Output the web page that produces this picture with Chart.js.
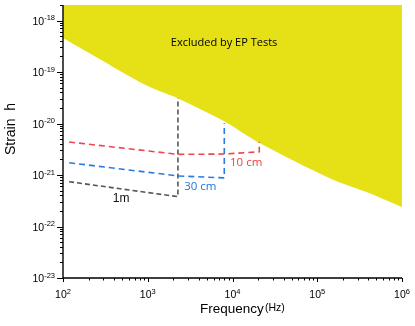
<!DOCTYPE html>
<html>
<head>
<meta charset="utf-8">
<script src="https://cdn.jsdelivr.net/npm/chart.js@4.4.0/dist/chart.umd.min.js"></script>
<style>
  html, body { margin: 0; padding: 0; background: #fff; }
</style>
</head>
<body>
<canvas id="chart" width="415" height="326"></canvas>
<script>
// excluded region (EP tests), lower boundary
var epFreq   = [100, 172, 297, 512, 883, 1390, 2190, 4130, 8170, 21100, 142000, 422000, 1000000];
var epStrain = [4.55e-19, 2.73e-19, 1.64e-19, 9.7e-20, 5.94e-20, 4.23e-20, 3.18e-20, 1.91e-20, 1.08e-20, 4.12e-21, 8.59e-22, 4.39e-22, 2.40e-22];

// sensitivity curves
var cm10Freq   = [118, 2270, 8000, 20700, 20700];
var cm10Strain = [4.37e-21, 2.52e-21, 2.55e-21, 2.82e-21, 4.42e-21];
var cm30Freq   = [118, 2270, 8000, 8000];
var cm30Strain = [1.73e-21, 9.6e-22, 8.8e-22, 1.01e-20];
var m1Freq     = [118, 2270, 2270];
var m1Strain   = [7.4e-22, 3.8e-22, 3.1e-20];

// tick labels (powers of ten)
var xTickExp = [2, 3, 4, 5, 6];
var yTickExp = [-23, -22, -21, -20, -19, -18];

var toPoints = function(xs, ys){
  var pts = [];
  xs.forEach((x, i) => { pts.push({x: x, y: ys[i]}); });
  return pts;
};

var dashed = function(label, xs, ys, color, dash){
  return {
    label: label,
    data: toPoints(xs, ys),
    showLine: true,
    borderColor: color,
    borderWidth: 1.6,
    borderDash: dash,
    pointRadius: 0,
    fill: false,
    tension: 0,
    order: 1
  };
};

/**
* Teken assen, ticks, superscript labels en teksten.
**/
var axesPlugin = {
  id: 'axesPlugin',
  afterDraw(chart){
    var ctx = chart.ctx;
    var xs = chart.scales.x, ys = chart.scales.y;
    var area = chart.chartArea;
    ctx.save();
    ctx.strokeStyle = '#000';
    ctx.fillStyle = '#000';
    ctx.lineWidth = 1.4;

    // axis lines
    ctx.beginPath();
    ctx.moveTo(area.left, area.top);
    ctx.lineTo(area.left, area.bottom);
    ctx.lineTo(area.right, area.bottom);
    ctx.stroke();

    // y ticks
    ctx.lineWidth = 1;
    for (var e = -23; e <= -18; e++) {
      for (var m = 1; m <= 9; m++) {
        var v = m * Math.pow(10, e);
        if (v > ys.max * 1.0001) continue;
        var py = Math.round(ys.getPixelForValue(v)) + 0.5;
        var len = m === 1 ? 6 : 3;
        ctx.beginPath();
        ctx.moveTo(area.left - len, py);
        ctx.lineTo(area.left, py);
        ctx.stroke();
      }
    }
    // x ticks
    for (var e = 2; e <= 6; e++) {
      for (var m = 1; m <= 9; m++) {
        var v = m * Math.pow(10, e);
        if (v > xs.max * 1.0001) continue;
        var px = Math.round(xs.getPixelForValue(v)) + 0.5;
        var len = m === 1 ? 4 : 2.5;
        ctx.beginPath();
        ctx.moveTo(px, area.bottom);
        ctx.lineTo(px, area.bottom + len);
        ctx.stroke();
      }
    }

    var base = '10.5px "Liberation Sans", Arial, sans-serif';
    var sup = '7.5px "Liberation Sans", Arial, sans-serif';

    // y tick labels
    ctx.textBaseline = 'alphabetic';
    yTickExp.forEach((exp) => {
      var py = ys.getPixelForValue(Math.pow(10, exp));
      ctx.font = sup;
      var ws = ctx.measureText(String(exp)).width;
      ctx.font = base;
      var wb = ctx.measureText('10').width;
      var right = area.left - 8;
      ctx.textAlign = 'left';
      ctx.fillText('10', right - ws - wb, py + 4);
      ctx.font = sup;
      ctx.fillText(String(exp), right - ws, py - 0.5);
    });

    // x tick labels
    xTickExp.forEach((exp) => {
      var px = xs.getPixelForValue(Math.pow(10, exp));
      ctx.font = sup;
      var ws = ctx.measureText(String(exp)).width;
      ctx.font = base;
      var wb = ctx.measureText('10').width;
      var left = px - (wb + ws) / 2;
      ctx.textAlign = 'left';
      ctx.fillText('10', left, area.bottom + 20);
      ctx.font = sup;
      ctx.fillText(String(exp), left + wb, area.bottom + 15.5);
    });

    // axis titles
    ctx.font = '13.5px "Liberation Sans", Arial, sans-serif';
    ctx.fillText('Frequency', 200, 312.5);
    ctx.font = '10.5px "Liberation Sans", Arial, sans-serif';
    ctx.fillText('(Hz)', 265, 310.5);

    ctx.save();
    ctx.translate(15, 129);
    ctx.rotate(-Math.PI / 2);
    ctx.textAlign = 'center';
    ctx.font = '14px "Liberation Sans", Arial, sans-serif';
    ctx.fillText('Strain  h', 0, 0);
    ctx.restore();

    // annotations
    ctx.textBaseline = 'middle';
    ctx.textAlign = 'center';
    ctx.font = '11px "Open Sans", sans-serif';
    ctx.fillStyle = '#000';
    ctx.fillText('Excluded by EP Tests', xs.getPixelForValue(7950), ys.getPixelForValue(3.68e-19));

    ctx.textAlign = 'left';
    ctx.font = '11.5px "Open Sans", sans-serif';
    ctx.fillStyle = '#ee3b45';
    ctx.fillText('10 cm', xs.getPixelForValue(9350), ys.getPixelForValue(1.76e-21));
    ctx.fillStyle = '#2277dd';
    ctx.fillText('30 cm', xs.getPixelForValue(2690), ys.getPixelForValue(5.89e-22));
    ctx.fillStyle = '#111';
    ctx.font = '12px "Liberation Sans", Arial, sans-serif';
    ctx.fillText('1m', xs.getPixelForValue(386), ys.getPixelForValue(3.4e-22));

    ctx.restore();
  }
};

new Chart(document.getElementById('chart'), {
  type: 'scatter',
  data: {
    datasets: [
      {
        label: 'Excluded by EP Tests',
        data: toPoints(epFreq, epStrain),
        showLine: true,
        borderWidth: 0,
        borderColor: 'rgba(0,0,0,0)',
        backgroundColor: '#e6e017',
        pointRadius: 0,
        fill: 'end',
        tension: 0.3,
        order: 10
      },
      dashed('10 cm', cm10Freq, cm10Strain, '#f0444e', [6, 4]),
      dashed('30 cm', cm30Freq, cm30Strain, '#2a7be0', [6, 4]),
      dashed('1m', m1Freq, m1Strain, '#555555', [5, 3])
    ]
  },
  options: {
    responsive: false,
    animation: false,
    devicePixelRatio: 1,
    layout: { padding: { left: 63, right: 13, top: 5, bottom: 48 } },
    plugins: { legend: { display: false }, tooltip: { enabled: false } },
    scales: {
      x: { type: 'logarithmic', min: 100, max: 1e6, display: false },
      y: { type: 'logarithmic', min: 1e-23, max: 2e-18, display: false }
    }
  },
  plugins: [axesPlugin]
});
</script>
</body>
</html>
